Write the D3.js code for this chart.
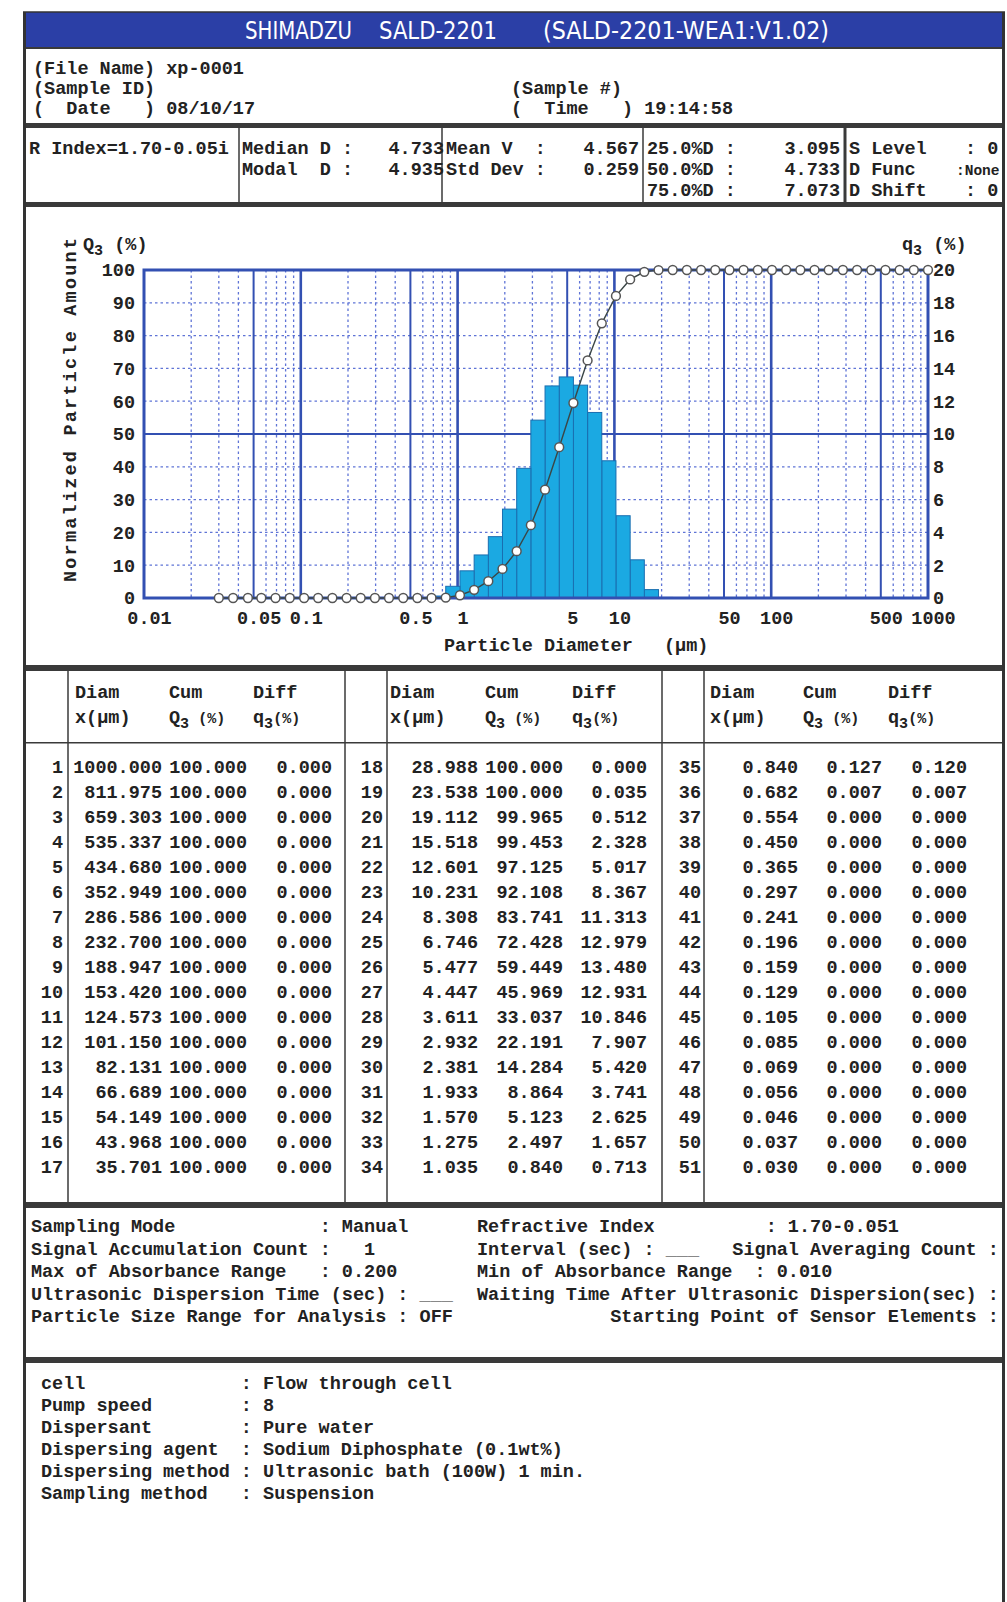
<!DOCTYPE html>
<html>
<head>
<meta charset="utf-8">
<script src="https://cdn.jsdelivr.net/npm/d3@7"></script>
<style>
body { margin: 0; background: #fff; }
svg text { font-family: "Liberation Mono", "DejaVu Sans Mono", monospace; font-weight: bold; font-size: 18.5px; fill: #222; white-space: pre; }
svg text.title { font-family: "Liberation Sans Narrow", "DejaVu Sans Condensed", sans-serif; font-weight: normal; font-size: 25px; fill: #fff; }
</style>
</head>
<body>
<div class="report"></div>
<script>
// channel diameters (um), cumulative Q3 (%), differential q3 (%)
var diam = [1000.000, 811.975, 659.303, 535.337, 434.680, 352.949, 286.586, 232.700, 188.947, 153.420,
  124.573, 101.150, 82.131, 66.689, 54.149, 43.968, 35.701, 28.988, 23.538, 19.112,
  15.518, 12.601, 10.231, 8.308, 6.746, 5.477, 4.447, 3.611, 2.932, 2.381,
  1.933, 1.570, 1.275, 1.035, 0.840, 0.682, 0.554, 0.450, 0.365, 0.297,
  0.241, 0.196, 0.159, 0.129, 0.105, 0.085, 0.069, 0.056, 0.046, 0.037, 0.030];
var cum = [100, 100, 100, 100, 100, 100, 100, 100, 100, 100,
  100, 100, 100, 100, 100, 100, 100, 100, 100, 99.965,
  99.453, 97.125, 92.108, 83.741, 72.428, 59.449, 45.969, 33.037, 22.191, 14.284,
  8.864, 5.123, 2.497, 0.840, 0.127, 0.007, 0, 0, 0, 0,
  0, 0, 0, 0, 0, 0, 0, 0, 0, 0, 0];
var diff = [0, 0, 0, 0, 0, 0, 0, 0, 0, 0,
  0, 0, 0, 0, 0, 0, 0, 0, 0.035, 0.512,
  2.328, 5.017, 8.367, 11.313, 12.979, 13.480, 12.931, 10.846, 7.907, 5.420,
  3.741, 2.625, 1.657, 0.713, 0.120, 0.007, 0, 0, 0, 0,
  0, 0, 0, 0, 0, 0, 0, 0, 0, 0, 0];

var xTicks = [0.01, 0.05, 0.1, 0.5, 1, 5, 10, 50, 100, 500, 1000];
var xTickLabels = ["0.01", "0.05", "0.1", "0.5", "1", "5", "10", "50", "100", "500", "1000"];
var leftTicks = [0, 10, 20, 30, 40, 50, 60, 70, 80, 90, 100];
var rightTicks = [0, 2, 4, 6, 8, 10, 12, 14, 16, 18, 20];

var headerLeft = ["(File Name) xp-0001", "(Sample ID)", "(  Date   ) 08/10/17"];
var headerRight = ["", "(Sample #)", "(  Time   ) 19:14:58"];

var statNames = [["Median D :", "Modal  D :"], ["Mean V  :", "Std Dev :"], ["25.0%D :", "50.0%D :", "75.0%D :"]];
var statValues = [["4.733", "4.935"], ["4.567", "0.259"], ["3.095", "4.733", "7.073"]];
var settingNames = ["S Level", "D Func", "D Shift"];
var settingValues = [": 0", ":None", ": 0"];

var condLeft = ["Sampling Mode             : Manual",
  "Signal Accumulation Count :   1",
  "Max of Absorbance Range   : 0.200",
  "Ultrasonic Dispersion Time (sec) : ",
  "Particle Size Range for Analysis : OFF"];
var condRight = ["Refractive Index          : 1.70-0.051",
  "Interval (sec) : ",
  "Min of Absorbance Range  : 0.010",
  "Waiting Time After Ultrasonic Dispersion(sec) :",
  "            Starting Point of Sensor Elements :"];

var methodNames = ["cell", "Pump speed", "Dispersant", "Dispersing agent", "Dispersing method", "Sampling method"];
var methodValues = ["Flow through cell", "8", "Pure water", "Sodium Diphosphate (0.1wt%)", "Ultrasonic bath (100W) 1 min.", "Suspension"];

var W = 1007, H = 1602;
var L = 23, R = 1005;

var svg = d3.select(".report").append("svg")
  .attr("width", W).attr("height", H);

var page = svg.append("g");

function txt(x, y, s, anchor) {
  return page.append("text")
    .attr("x", x).attr("y", y)
    .attr("text-anchor", anchor || "start")
    .text(s);
}
function hline(y, th) {
  page.append("rect").attr("x", L).attr("y", y).attr("width", R - L).attr("height", th).attr("fill", "#3a3a3a");
}
function vline(x, y1, y2, w) {
  page.append("line").attr("x1", x).attr("x2", x).attr("y1", y1).attr("y2", y2)
    .attr("stroke", "#3a3a3a").attr("stroke-width", w || 1.5);
}

// title bar
page.append("rect").attr("x", L).attr("y", 12).attr("width", R - L).attr("height", 36).attr("fill", "#2b3fa6");
page.append("text").attr("class", "title").attr("x", 245).attr("y", 39).attr("textLength", 107).attr("lengthAdjust", "spacingAndGlyphs").text("SHIMADZU");
page.append("text").attr("class", "title").attr("x", 379).attr("y", 39).attr("textLength", 118).attr("lengthAdjust", "spacingAndGlyphs").text("SALD-2201");
page.append("text").attr("class", "title").attr("x", 543).attr("y", 39).attr("textLength", 286).attr("lengthAdjust", "spacingAndGlyphs").text("(SALD-2201-WEA1:V1.02)");

// header box
headerLeft.forEach((s, i) => txt(33, 74 + i * 20, s));
headerRight.forEach((s, i) => txt(511, 74 + i * 20, s));

// separators
hline(47, 2);
hline(123, 5);
hline(202, 5);
hline(665, 6);
hline(1202, 6);
hline(1357, 6);

// stats box
txt(29, 154, "R Index=1.70-0.05i");
[239, 442, 643].forEach(x => vline(x, 128, 202));
vline(845, 128, 202, 3);
var statX = [242, 446, 647], statEnd = [444, 639, 840];
statNames.forEach((col, c) => {
  col.forEach((s, r) => {
    txt(statX[c], 154 + r * 21, s);
    txt(statEnd[c], 154 + r * 21, statValues[c][r], "end");
  });
});
settingNames.forEach((s, r) => {
  txt(849, 154 + r * 21, s);
  var t = txt(r === 1 ? 956 : 965, 154 + r * 21, settingValues[r]);
  if (r === 1) t.style("font-size", "14.5px");
});

// ---------- chart ----------
var x = d3.scaleLog().domain([0.01, 1000]).range([144, 928]);
var y1 = d3.scaleLinear().domain([0, 100]).range([598, 270]);
var y2 = d3.scaleLinear().domain([0, 20]).range([598, 270]);

var chart = page.append("g");
var blue = "#3350b2", light = "#5f74d6";

var minor = [], major = [];
[0.01, 0.1, 1, 10, 100].forEach(d => {
  for (var m = 2; m <= 10; m++) {
    var v = +(d * m).toPrecision(3);
    if (m === 5 || m === 10) { if (v < 1000) major.push(v); }
    else minor.push(v);
  }
});

chart.selectAll(".vminor").data(minor).enter().append("line")
  .attr("x1", d => x(d)).attr("x2", d => x(d))
  .attr("y1", y1(100)).attr("y2", y1(0))
  .attr("stroke", light).attr("stroke-width", 1.3).attr("stroke-dasharray", "2.5,3");

chart.selectAll(".hminor").data(leftTicks.filter(d => d > 0 && d < 100 && d !== 50)).enter().append("line")
  .attr("x1", x(0.01)).attr("x2", x(1000))
  .attr("y1", d => y1(d)).attr("y2", d => y1(d))
  .attr("stroke", light).attr("stroke-width", 1.3).attr("stroke-dasharray", "2.5,3");

chart.selectAll(".vmajor").data(major).enter().append("line")
  .attr("x1", d => x(d)).attr("x2", d => x(d))
  .attr("y1", y1(100)).attr("y2", y1(0))
  .attr("stroke", blue).attr("stroke-width", d => (Math.log10(d) % 1 === 0) ? 2.6 : 2);

chart.append("line")
  .attr("x1", x(0.01)).attr("x2", x(1000))
  .attr("y1", y1(50)).attr("y2", y1(50))
  .attr("stroke", blue).attr("stroke-width", 2);

// histogram bars: each channel spans to the next smaller diameter
var bars = diff.map((v, i) => ({ v: v, hi: diam[i], lo: diam[i + 1] }))
  .filter(d => d.lo !== undefined && d.v > 0);

chart.selectAll(".bar").data(bars).enter().append("rect")
  .attr("x", d => x(d.lo))
  .attr("width", d => x(d.hi) - x(d.lo))
  .attr("y", d => y2(d.v))
  .attr("height", d => y2(0) - y2(d.v))
  .attr("fill", "#1ba9e2")
  .attr("stroke", "#1a6eb0")
  .attr("stroke-width", 1);

chart.append("rect")
  .attr("x", x(0.01)).attr("y", y1(100))
  .attr("width", x(1000) - x(0.01)).attr("height", y1(0) - y1(100))
  .attr("fill", "none").attr("stroke", blue).attr("stroke-width", 3);

// cumulative curve
var pts = diam.map((d, i) => [x(d), y1(cum[i])]);
chart.append("path")
  .attr("d", d3.line()(pts))
  .attr("fill", "none").attr("stroke", "#3b4646").attr("stroke-width", 1.4);

chart.selectAll(".pt").data(pts).enter().append("circle")
  .attr("cx", d => d[0]).attr("cy", d => d[1]).attr("r", 4.4)
  .attr("fill", "#fff").attr("stroke", "#555").attr("stroke-width", 1.5);

// axes
var xAxis = chart.append("g")
  .attr("transform", "translate(0," + y1(0) + ")")
  .call(d3.axisBottom(x).tickValues(xTicks).tickSize(0).tickPadding(13)
    .tickFormat((d, i) => xTickLabels[i]));
xAxis.select(".domain").remove();
xAxis.selectAll("text").attr("dx", 5);

var lAxis = chart.append("g")
  .attr("transform", "translate(" + x(0.01) + ",0)")
  .call(d3.axisLeft(y1).tickValues(leftTicks).tickSize(0).tickPadding(9));
lAxis.select(".domain").remove();

var rAxis = chart.append("g")
  .attr("transform", "translate(" + x(1000) + ",0)")
  .call(d3.axisRight(y2).tickValues(rightTicks).tickSize(0).tickPadding(5));
rAxis.select(".domain").remove();

// axis titles
var q = txt(83, 250, "Q");
q.append("tspan").attr("dy", 5).style("font-size", "15px").text("3");
q.append("tspan").attr("dy", -5).text(" (%)");

var q2 = txt(902, 250, "q");
q2.append("tspan").attr("dy", 5).style("font-size", "15px").text("3");
q2.append("tspan").attr("dy", -5).text(" (%)");

page.append("text")
  .attr("transform", "translate(76,582) rotate(-90)")
  .attr("textLength", 344).attr("lengthAdjust", "spacing")
  .text("Normalized Particle Amount");

txt(444, 651, "Particle Diameter");
txt(664, 651, "(\u03bcm)");

// ---------- table ----------
var groupLines = [[68, 345], [387, 662], [704, null]];
groupLines.forEach(g => g.forEach(xv => { if (xv) vline(xv, 671, 1202); }));
page.append("rect").attr("x", L).attr("y", 742).attr("width", R - L).attr("height", 1.5).attr("fill", "#3a3a3a");

var idxEnd = [63, 383, 701], diamEnd = [162, 478, 798], cumEnd = [247, 563, 882], diffEnd = [332, 647, 967];
var hDiam = [75, 390, 710], hCum = [169, 485, 803], hDiff = [253, 572, 888];

for (var g = 0; g < 3; g++) {
  txt(hDiam[g], 698, "Diam");
  txt(hDiam[g], 723, "x(\u03bcm)");
  txt(hCum[g], 698, "Cum");
  var c = txt(hCum[g], 723, "Q");
  c.append("tspan").attr("dy", 5).style("font-size", "15px").text("3");
  c.append("tspan").attr("dy", -5).style("font-size", "15px").text(" (%)");
  txt(hDiff[g], 698, "Diff");
  var dq = txt(hDiff[g], 723, "q");
  dq.append("tspan").attr("dy", 5).style("font-size", "15px").text("3");
  dq.append("tspan").attr("dy", -5).style("font-size", "15px").text("(%)");

  for (var r = 0; r < 17; r++) {
    var i = g * 17 + r, yy = 773 + r * 25;
    txt(idxEnd[g], yy, String(i + 1), "end");
    txt(diamEnd[g], yy, diam[i].toFixed(3), "end");
    txt(cumEnd[g], yy, cum[i].toFixed(3), "end");
    txt(diffEnd[g], yy, diff[i].toFixed(3), "end");
  }
}

// ---------- conditions ----------
condLeft.forEach((s, i) => {
  var t = txt(31, 1232 + i * 22.5, s);
  if (i === 3) t.append("tspan").style("fill", "#888").text("___");
});
condRight.forEach((s, i) => {
  var t = txt(477, 1232 + i * 22.5, s);
  if (i === 1) {
    t.append("tspan").style("fill", "#888").text("___");
    t.append("tspan").text("   Signal Averaging Count :");
  }
});

// ---------- method ----------
methodNames.forEach((s, i) => {
  txt(41, 1389 + i * 22, s.padEnd(18) + ": " + methodValues[i]);
});

// outer frame
page.append("line").attr("x1", L + 1.5).attr("x2", L + 1.5).attr("y1", 12).attr("y2", H)
  .attr("stroke", "#333").attr("stroke-width", 3);
page.append("line").attr("x1", R - 1.5).attr("x2", R - 1.5).attr("y1", 12).attr("y2", H)
  .attr("stroke", "#333").attr("stroke-width", 3);
page.append("line").attr("x1", L).attr("x2", R).attr("y1", 12).attr("y2", 12)
  .attr("stroke", "#333").attr("stroke-width", 1.5);
</script>
</body>
</html>
